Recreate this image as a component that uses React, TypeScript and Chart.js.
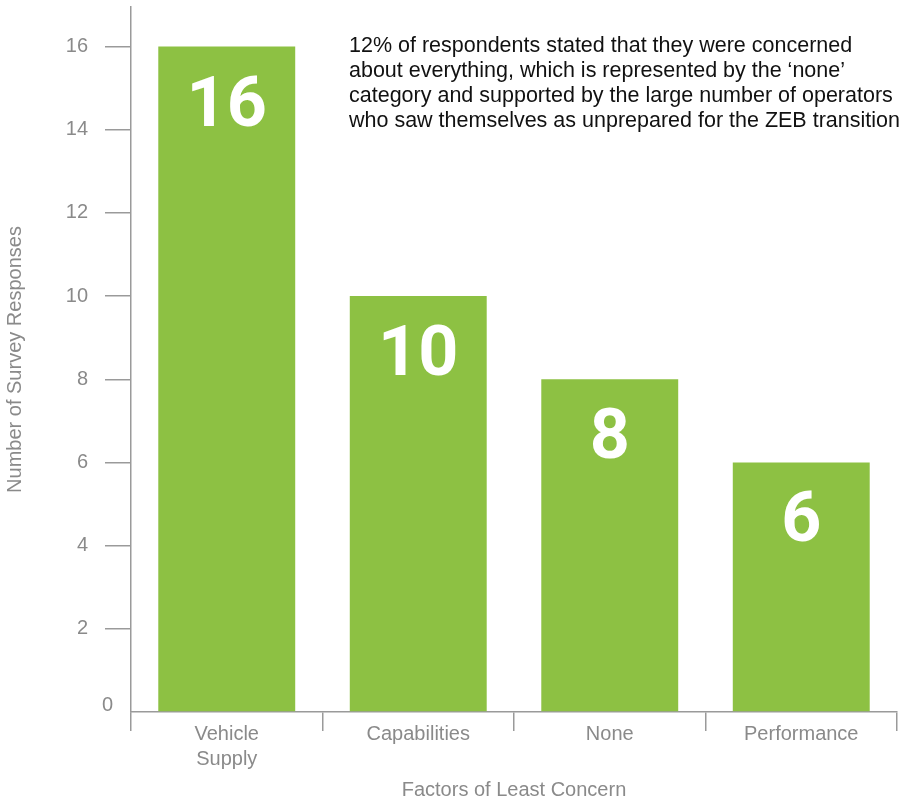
import React, { useEffect, useRef } from "react";
import { Chart, registerables } from "chart.js";

Chart.register(...registerables);

const categories: (string | string[])[] = [["Vehicle", "Supply"], "Capabilities", "None", "Performance"];
const responses: number[] = [16, 10, 8, 6];
const yTicks: number[] = [0, 2, 4, 6, 8, 10, 12, 14, 16];
const noteLines: string[] = [
  "12% of respondents stated that they were concerned",
  "about everything, which is represented by the \u2018none\u2019",
  "category and supported by the large number of operators",
  "who saw themselves as unprepared for the ZEB transition",
];
const yTitle = "Number of Survey Responses";
const xTitle = "Factors of Least Concern";

const GREEN = "#8DC143";
const AXIS = "#9a9a9a";
const LABEL = "#8a8a8a";
const FONT = "'Liberation Sans', Arial, Helvetica, sans-serif";

const overlay = {
  id: "overlay",
  afterDatasetsDraw(chart: any) {
    const ctx = chart.ctx;
    const meta = chart.getDatasetMeta(0);
    ctx.save();
    ctx.fillStyle = "#ffffff";
    ctx.font = "bold 70px Roboto, 'Liberation Sans', sans-serif";
    ctx.textAlign = "center";
    ctx.textBaseline = "alphabetic";
    meta.data.forEach((bar: any, i: number) => {
      ctx.fillText(String(responses[i]), bar.x, bar.y + 79);
    });
    ctx.restore();
  },
  afterDraw(chart: any) {
    const ctx = chart.ctx;
    const y = chart.scales.y;
    const area = chart.chartArea;
    ctx.save();
    // zero label
    ctx.fillStyle = LABEL;
    ctx.font = `20px ${FONT}`;
    ctx.textAlign = "right";
    ctx.textBaseline = "alphabetic";
    ctx.fillText("0", area.left - 18, y.getPixelForValue(0) - 1);
    // note
    ctx.fillStyle = "#111111";
    ctx.font = `21.5px ${FONT}`;
    ctx.textAlign = "left";
    noteLines.forEach((line, i) => {
      ctx.fillText(line, area.left + 218, 52 + i * 25);
    });
    ctx.restore();
  },
};

export default function App() {
  const ref = useRef<HTMLCanvasElement | null>(null);
  useEffect(() => {
    if (!ref.current) return;
    const chart = new Chart(ref.current, {
      type: "bar",
      data: {
        labels: categories as any,
        datasets: [
          {
            data: responses,
            backgroundColor: GREEN,
            borderWidth: 0,
            categoryPercentage: 1,
            barPercentage: 0.715,
          },
        ],
      },
      options: {
        animation: false,
        responsive: false,
        devicePixelRatio: 1,
        layout: { padding: { top: 7, right: 3, left: 0, bottom: 0 } },
        plugins: { legend: { display: false }, tooltip: { enabled: false } },
        scales: {
          x: {
            offset: true,
            grid: {
              display: true,
              drawOnChartArea: false,
              drawTicks: true,
              tickLength: 19,
              color: AXIS,
              lineWidth: 1.5,
              offset: true,
            },
            border: { display: true, color: AXIS, width: 1.5 },
            ticks: {
              color: LABEL,
              font: { family: FONT, size: 20, lineHeight: 1.25 },
              padding: -9,
              maxRotation: 0,
              autoSkip: false,
            },
            title: {
              display: true,
              text: xTitle,
              color: LABEL,
              font: { family: FONT, size: 20, lineHeight: 0.85 },
              padding: { top: 0, bottom: 0 },
            },
            afterFit(scale: any) {
              scale.height = 87;
              scale.paddingLeft = 0;
              scale.paddingRight = 0;
            },
          },
          y: {
            min: 0,
            max: 16.95,
            afterBuildTicks(scale: any) {
              scale.ticks = yTicks.map((v) => ({ value: v }));
            },
            grid: {
              display: true,
              drawOnChartArea: false,
              drawTicks: true,
              tickLength: 26,
              lineWidth: 1.5,
              color: (c: any) => (c.tick && c.tick.value === 0 ? "rgba(0,0,0,0)" : AXIS),
            },
            border: { display: true, color: AXIS, width: 1.5 },
            ticks: {
              color: LABEL,
              font: { family: FONT, size: 20 },
              padding: 17,
              callback: (v: any) => (v === 0 ? "" : String(v)),
            },
            title: {
              display: true,
              text: yTitle,
              color: LABEL,
              font: { family: FONT, size: 20, lineHeight: 1.2 },
              padding: { top: 3.5, bottom: 0 },
            },
            afterFit(scale: any) {
              scale.width = 131;
              scale.paddingTop = 0;
              scale.paddingBottom = 0;
            },
          },
        },
      },
      plugins: [overlay],
    });
    return () => chart.destroy();
  }, []);
  return (
    <div style={{ position: "absolute", left: 0, top: 0, width: 900, height: 799 }}>
      <canvas ref={ref} width={900} height={799} style={{ width: 900, height: 799, display: "block" }} />
    </div>
  );
}
